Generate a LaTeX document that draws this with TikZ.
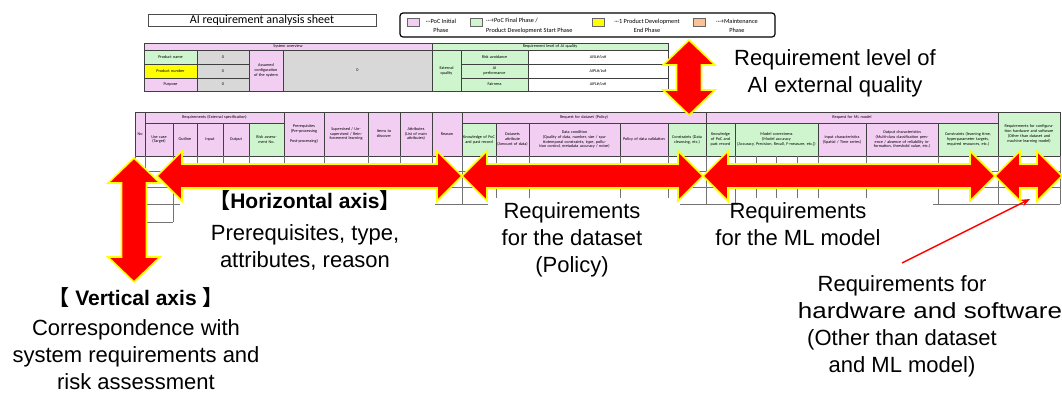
\documentclass[tikz,border=0pt]{standalone}
\usepackage{fontspec}
\setmainfont{Liberation Sans}
\newfontfamily\cjkfont{Noto Sans CJK JP}
\newfontfamily\smallfont{Carlito}
\usetikzlibrary{arrows.meta}
\definecolor{cpink}{RGB}{243,206,243}
\definecolor{cgreen}{RGB}{206,245,206}
\definecolor{cgray}{RGB}{216,216,216}
\definecolor{corange}{RGB}{250,192,150}
\definecolor{cyel}{RGB}{255,255,0}
\definecolor{aured}{RGB}{255,0,0}
\definecolor{auyel}{RGB}{255,255,0}
\newcommand{\tcell}[7]{%
  \pgfmathsetmacro\cellw{#4-#2}\pgfmathsetmacro\cellh{#5-#3}\pgfmathsetmacro\celltw{#4-#2-2}%
  \node[tc, fill=#6, minimum width=\cellw pt, minimum height=\cellh pt, text width=\celltw pt] (#1) at ({(#2+#4)/2},{(#3+#5)/2}) {#7};}
\newcommand{\myharrow}[3]{\filldraw[bigarr] (#1,#3) -- (#1+25,#3-25) -- (#1+25,#3-12) -- (#2-25,#3-12) -- (#2-25,#3-25) -- (#2,#3) -- (#2-25,#3+25) -- (#2-25,#3+12) -- (#1+25,#3+12) -- (#1+25,#3+25) -- cycle;}
\newcommand{\myvarrow}[3]{\filldraw[bigarr] (#1,#2) -- (#1+26,#2+25) -- (#1+12.5,#2+25) -- (#1+12.5,#3-25) -- (#1+26,#3-25) -- (#1,#3) -- (#1-26,#3-25) -- (#1-12.5,#3-25) -- (#1-12.5,#2+25) -- (#1-26,#2+25) -- cycle;}
\begin{document}
\begin{tikzpicture}[x=1pt,y=-1pt,
  tc/.style={draw=black!75, line width=0.35pt, inner sep=0pt, align=center, font=\smallfont\fontsize{4.2}{4.8}\selectfont},
  sw/.style={draw=black!60, line width=0.4pt, minimum width=12pt, minimum height=8pt, inner sep=0pt},
  lg/.style={font=\smallfont\fontsize{6.3}{9.5}\selectfont, inner sep=0pt},
  bigtxt/.style={font=\fontsize{22}{27}\selectfont, align=center, inner sep=0pt},
  boldtxt/.style={font=\bfseries\fontsize{21}{27}\selectfont, inner sep=0pt},
  bigarr/.style={fill=aured, draw=auyel, line width=1.6pt, line join=miter},
  gridl/.style={draw=black!55, line width=0.5pt},
  whitebox/.style={fill=white, draw=none}]
\useasboundingbox (0,0) rectangle (1062,392);

% title and legend
\node[draw=black!70, line width=0.6pt, minimum width=228pt, minimum height=12pt, inner sep=0pt, font=\smallfont\fontsize{12}{12}\selectfont] (title) at (262,20.5) {AI requirement analysis sheet};
\node[draw, rounded corners=3pt, line width=1.2pt, minimum width=375pt, minimum height=24pt, inner sep=0pt] (legend) at (587.5,25) {};
\node[sw, fill=cpink] (swp) at (413,22) {};
\node[sw, fill=cgreen] (swg) at (476.5,22) {};
\node[sw, fill=cyel] (swy) at (598,22) {};
\node[sw, fill=corange] (swo) at (699.5,22) {};
\node[lg, align=center] (lgp) at (441,26) {···PoC Initial\\Phase};
\node[lg, align=left, anchor=west] (lgg) at (486,26) {···+PoC Final Phase /\\Product Development Start Phase};
\node[lg, align=center] (lgy) at (647,26) {···1 Product Development\\End Phase};
\node[lg, align=center] (lgo) at (737,26) {···+Maintenance\\Phase};

% system overview table
\tcell{soh}{144}{43}{432}{50}{cpink}{System overview}
\tcell{pn}{144}{50}{197}{64}{cgreen}{Product name}
\tcell{pnv}{197}{50}{249}{64}{cgray}{0}
\tcell{pnum}{144}{64}{197}{78}{cyel}{Product number}
\tcell{pnumv}{197}{64}{249}{78}{cgray}{0}
\tcell{pur}{144}{78}{197}{91}{cpink}{Purpose}
\tcell{purv}{197}{78}{249}{91}{cgray}{0}
\tcell{asc}{249}{50}{283}{91}{cpink}{Assumed configuration of the system}
\tcell{ascv}{283}{50}{432}{91}{cgray}{0}
\tcell{rlh}{432}{43}{668}{50}{cgreen}{Requirement level of AI quality}
\tcell{ext}{432}{50}{461}{91}{cgreen}{External quality}
\tcell{ra}{461}{50}{528}{64}{cgreen}{Risk avoidance}
\tcell{aip}{461}{64}{528}{78}{cgreen}{AI\\performance}
\tcell{fai}{461}{78}{528}{91}{cgreen}{Fairness}
\tcell{rav}{528}{50}{668}{64}{white}{AISL\#/Lv\#}
\tcell{aipv}{528}{64}{668}{78}{white}{AIPL\#/Lv\#}
\tcell{faiv}{528}{78}{668}{91}{white}{AIFL\#/Lv\#}

% main table header
\tcell{no}{135}{112}{145}{156}{cpink}{No}
\tcell{reqh}{145}{112}{284}{123}{cpink}{Requirements (External specification)}
\tcell{uc}{145}{123}{173}{156}{cpink}{Use case (Target)}
\tcell{outl}{173}{123}{197}{156}{cpink}{Outline}
\tcell{inp}{197}{123}{223}{156}{cpink}{Input}
\tcell{outp}{223}{123}{249}{156}{cpink}{Output}
\tcell{risk}{249}{123}{284}{156}{cgreen}{Risk assessment No.}
\tcell{pre}{284}{112}{324}{156}{cpink}{Prerequisites (Pre-processing\\[5pt] Post-processing)}
\tcell{sup}{324}{112}{368}{156}{cpink}{Supervised / Unsupervised / Reinforcement learning}
\tcell{itm}{368}{112}{400}{156}{cpink}{Items to discover}
\tcell{att}{400}{112}{432}{156}{cpink}{Attributes (List of main attributes)}
\tcell{rsn}{432}{112}{462}{156}{cpink}{Reason}
\tcell{dsh}{462}{112}{706}{123}{cpink}{Request for dataset (Policy)}
\tcell{kn1}{462}{123}{496}{156}{cgreen}{Knowledge of PoC and past record}
\tcell{dsa}{496}{123}{529}{156}{cpink}{Datasets attribute (Amount of data)}
\tcell{dcn}{529}{123}{620}{156}{cpink}{Data condition\\(Quality of data, number, size / spatiotemporal constraints, type, pollution control, metadata accuracy / noise)}
\tcell{pol}{620}{123}{668}{156}{cpink}{Policy of data validation}
\tcell{con1}{668}{123}{706}{156}{cgreen}{Constraints (Data cleansing, etc.)}
\tcell{mlh}{706}{112}{998}{123}{cpink}{Request for ML model}
\tcell{kn2}{706}{123}{735}{156}{cgreen}{Knowledge of PoC and past record}
\tcell{mc}{735}{123}{818}{156}{cgreen}{Model correctness\\(Model accuracy\\{[}Accuracy, Precision, Recall, F-measure, etc.{]})}
\tcell{ic}{818}{123}{866}{156}{cpink}{Input characteristics\\(Spatial / Time series)}
\tcell{oc}{866}{123}{938}{156}{cpink}{Output characteristics\\(Multi-class classification presence / absence of reliability information, threshold value, etc.)}
\tcell{con2}{938}{123}{998}{156}{cgreen}{Constraints (learning time, hyperparameter targets, required resources, etc.)}
\tcell{hw}{998}{112}{1060}{156}{cgreen}{Requirements for configuration hardware and software (Other than dataset and machine learning model)}

% data rows
\foreach \x in {135,145,173,197,223,249,284,324,368,400,432,462,496,529,620,668,706,735,755.75,776.5,797.25,818,866,938,998,1060}
  \draw[gridl] (\x,156) -- (\x,204);
\foreach \y in {171,187,204}
  \draw[gridl] (135,\y) -- (1060,\y);
\foreach \x in {135,145,173}
  \draw[gridl] (\x,204) -- (\x,222);
\draw[gridl] (135,222) -- (173,222);

% white label boxes
\fill[whitebox] (180,187) rectangle (435,214);
\fill[whitebox] (488,198) rectangle (680,214);
\fill[whitebox] (738,198) rectangle (933,214);

% labels (base anchor = baseline of the last line)
\node[bigtxt, anchor=base] (rl) at (835,92) {Requirement level of\\AI external quality};
\node[boldtxt, anchor=base] (hah) at (305,208) {{\cjkfont 【}Horizontal axis{\cjkfont 】}};
\node[bigtxt, anchor=base] (hab) at (305,267) {Prerequisites, type,\\attributes, reason};
\node[boldtxt, anchor=base] (vah) at (136,305) {{\cjkfont 【} Vertical axis {\cjkfont 】}};
\node[bigtxt, anchor=base] (vab) at (136,389) {Correspondence with\\system requirements and\\risk assessment};
\node[bigtxt, anchor=base] (dsl) at (572,272) {Requirements\\for the dataset\\(Policy)};
\node[bigtxt, anchor=base] (mll) at (798,245) {Requirements\\for the ML model};
\node[bigtxt, anchor=base] (hwl) at (902,372) {Requirements for\\\hspace*{56pt}\scalebox{1.18}[1]{hardware and software}\\(Other than dataset\\and ML model)};

% big arrows
\myvarrow{689}{40}{115}
\myharrow{157}{462}{176}
\myharrow{462}{703}{176}
\myharrow{703}{995}{176}
\myharrow{995}{1062}{176}
\myvarrow{134}{158}{282}

% pointer
\coordinate (hwtail) at (902,263);
\coordinate (hwhead) at (1030,199);
\draw[draw=aured, line width=1.5pt, -{Stealth[length=9pt,width=7pt]}] (hwtail) -- (hwhead);
\end{tikzpicture}
\end{document}
